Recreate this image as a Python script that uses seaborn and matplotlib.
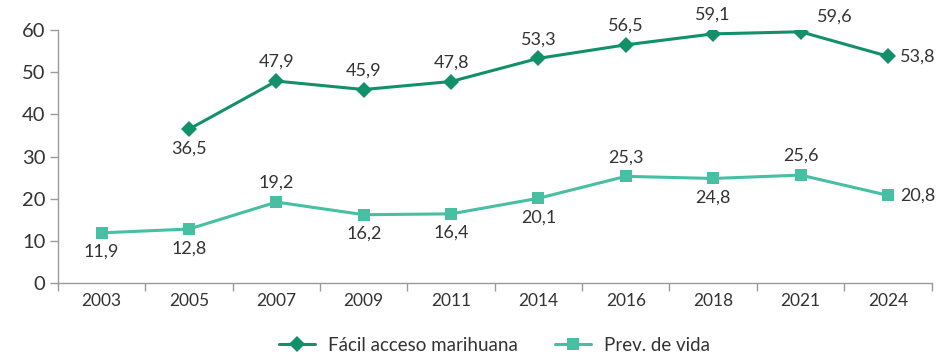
import numpy as np
import pandas as pd
import matplotlib
matplotlib.use("Agg")
import matplotlib.pyplot as plt
import seaborn as sns

years = ["2003", "2005", "2007", "2009", "2011", "2014", "2016", "2018", "2021", "2024"]
facil_acceso = [np.nan, 36.5, 47.9, 45.9, 47.8, 53.3, 56.5, 59.1, 59.6, 53.8]
prev_vida = [11.9, 12.8, 19.2, 16.2, 16.4, 20.1, 25.3, 24.8, 25.6, 20.8]
series_names = ["Fácil acceso marihuana", "Prev. de vida"]

# label placement per point: "a" above, "b" below, "r" right, "ur" upper right
facil_pos = [None, "b", "a", "a", "a", "a", "a", "a", "ur", "r"]
prev_pos = ["b", "b", "a", "b", "b", "b", "a", "b", "a", "r"]

sns.set_theme(style="white")
plt.rcParams["font.family"] = ["Lato", "DejaVu Sans"]

dark_green = "#12906a"
teal = "#47bfa2"
text_col = "#333333"
axis_col = "#9a9a9a"

pos = np.arange(len(years))
df = pd.DataFrame({
    "pos": np.concatenate([pos, pos]),
    "valor": facil_acceso + prev_vida,
    "serie": [series_names[0]] * len(years) + [series_names[1]] * len(years),
})

fig = plt.figure(figsize=(9.4, 3.54), dpi=100)
ax = fig.add_axes([0.0617, 0.2006, 0.9293, 0.7144])

sns.lineplot(
    data=df.dropna(), x="pos", y="valor", hue="serie", style="serie",
    palette=[dark_green, teal], markers=["D", "s"], dashes=False,
    markersize=8, linewidth=2.2, markeredgewidth=0, ax=ax,
)

LABEL_SIZE = 13

def annotate(values, places):
    for x, v, p in zip(pos, values, places):
        if p is None or np.isnan(v):
            continue
        txt = f"{v:.1f}".replace(".", ",")
        if p == "a":
            ax.annotate(txt, (x, v), xytext=(0, 8), textcoords="offset points",
                        ha="center", va="bottom", fontsize=LABEL_SIZE, color=text_col)
        elif p == "b":
            ax.annotate(txt, (x, v), xytext=(0, -8), textcoords="offset points",
                        ha="center", va="top", fontsize=LABEL_SIZE, color=text_col)
        elif p == "r":
            ax.annotate(txt, (x, v), xytext=(9, 0), textcoords="offset points",
                        ha="left", va="center", fontsize=LABEL_SIZE, color=text_col)
        elif p == "ur":
            ax.annotate(txt, (x, v), xytext=(12, 5), textcoords="offset points",
                        ha="left", va="bottom", fontsize=LABEL_SIZE, color=text_col)

annotate(facil_acceso, facil_pos)
annotate(prev_vida, prev_pos)

ax.set_xlim(-0.5, len(years) - 0.5)
ax.set_ylim(0, 60)
ax.set_yticks(np.arange(0, 61, 10))
ax.set_xticks(pos)
ax.set_xticklabels(years)
ax.set_xticks(np.arange(-0.5, len(years), 1.0), minor=True)
ax.tick_params(axis="x", which="major", length=0, labelsize=12.5, colors=text_col, pad=7)
ax.tick_params(axis="x", which="minor", length=6, color=axis_col, width=1, bottom=True)
ax.tick_params(axis="y", which="major", length=6, color=axis_col, width=1, left=True,
               labelsize=14.5, labelcolor=text_col, pad=3)
ax.set_xlabel("")
ax.set_ylabel("")

for side in ["top", "right"]:
    ax.spines[side].set_visible(False)
for side in ["left", "bottom"]:
    ax.spines[side].set_color(axis_col)
    ax.spines[side].set_linewidth(1)

handles, labels = ax.get_legend_handles_labels()
ax.legend(handles, labels, loc="center", bbox_to_anchor=(0.5, -0.247),
          ncol=2, frameon=False, fontsize=13.5, handlelength=1.9,
          handletextpad=0.7, columnspacing=2.0, labelcolor=text_col)

fig.savefig("out.png", dpi=100)
